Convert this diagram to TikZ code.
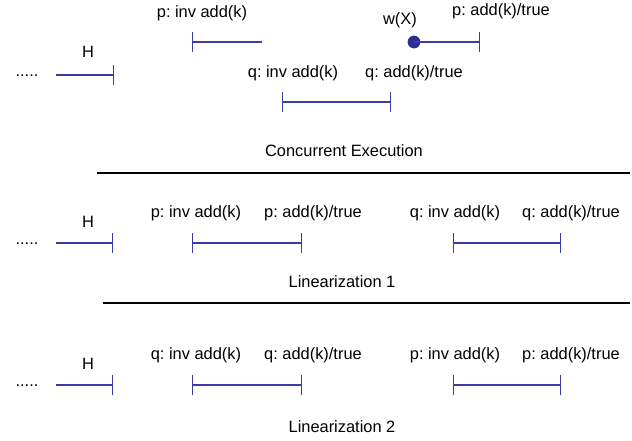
\documentclass[tikz,border=0pt]{standalone}
\usepackage{fontspec}
\setmainfont{Liberation Sans}
\frenchspacing
\usetikzlibrary{arrows.meta}
\definecolor{ivblue}{RGB}{60,60,165}
\definecolor{dotblue}{RGB}{44,46,145}
\tikzset{
  lbl/.style={inner sep=0pt, font=\fontsize{8.2pt}{10pt}\selectfont},
  iv/.style={draw=ivblue, line width=0.65pt},
  both/.style={iv, {Bar[width=10pt]}-{Bar[width=10pt]}},
  endtick/.style={iv, -{Bar[width=10pt]}},
  starttick/.style={iv, {Bar[width=10pt]}-},
  sep/.style={draw=black, line width=0.8pt}
}
\begin{document}
\begin{tikzpicture}[x=0.5pt, y=-0.5pt]
\useasboundingbox (0, 0) rectangle (632, 440);

% Concurrent execution
\node (dots0) at (27, 76) [lbl] {.....};
\node (h0) at (88, 52) [lbl] {H};
\coordinate (h0s) at (56, 75);
\coordinate (h0e) at (114, 75);
\draw[endtick] (h0s) -- (h0e);

\node (pinv0) at (202, 13) [lbl] {p: inv add(k)};
\coordinate (pinv0s) at (192, 42);
\coordinate (pinv0e) at (262, 42);
\draw[starttick] (pinv0s) -- (pinv0e);

\node (wx) at (400, 20) [lbl] {w(X)};
\node (wxdot) at (414, 42) [circle, fill=dotblue, inner sep=0pt, minimum size=6.4pt] {};
\node (pres0) at (501, 11) [lbl] {p: add(k)/true};
\coordinate (pres0e) at (480, 42);
\draw[endtick] (wxdot.center) -- (pres0e);

\node (qinv0) at (293, 73) [lbl] {q: inv add(k)};
\node (qres0) at (414, 73) [lbl] {q: add(k)/true};
\coordinate (q0s) at (282, 102);
\coordinate (q0e) at (391, 102);
\draw[both] (q0s) -- (q0e);

\node (cap0) at (344, 151) [lbl] {Concurrent Execution};

% separator
\coordinate (sep1s) at (97, 173);
\coordinate (sep1e) at (630, 173);
\draw[sep] (sep1s) -- (sep1e);

% Linearization 1
\node (dots1) at (27, 244) [lbl] {.....};
\node (h1) at (88, 222) [lbl] {H};
\coordinate (h1s) at (56, 243);
\coordinate (h1e) at (113, 243);
\draw[endtick] (h1s) -- (h1e);

\node (pinv1) at (196, 213) [lbl] {p: inv add(k)};
\node (pres1) at (313, 213) [lbl] {p: add(k)/true};
\coordinate (p1s) at (192, 243);
\coordinate (p1e) at (302, 243);
\draw[both] (p1s) -- (p1e);

\node (qinv1) at (455, 213) [lbl] {q: inv add(k)};
\node (qres1) at (571, 213) [lbl] {q: add(k)/true};
\coordinate (q1s) at (453, 243);
\coordinate (q1e) at (561, 243);
\draw[both] (q1s) -- (q1e);

\node (cap1) at (342, 282) [lbl] {Linearization 1};

% separator
\coordinate (sep2s) at (103, 303);
\coordinate (sep2e) at (630, 303);
\draw[sep] (sep2s) -- (sep2e);

% Linearization 2
\node (dots2) at (27, 386) [lbl] {.....};
\node (h2) at (88, 364) [lbl] {H};
\coordinate (h2s) at (56, 385);
\coordinate (h2e) at (113, 385);
\draw[endtick] (h2s) -- (h2e);

\node (qinv2) at (196, 355) [lbl] {q: inv add(k)};
\node (qres2) at (313, 355) [lbl] {q: add(k)/true};
\coordinate (q2s) at (192, 385);
\coordinate (q2e) at (302, 385);
\draw[both] (q2s) -- (q2e);

\node (pinv2) at (455, 355) [lbl] {p: inv add(k)};
\node (pres2) at (571, 355) [lbl] {p: add(k)/true};
\coordinate (p2s) at (453, 385);
\coordinate (p2e) at (561, 385);
\draw[both] (p2s) -- (p2e);

\node (cap2) at (342, 427) [lbl] {Linearization 2};

\end{tikzpicture}
\end{document}
